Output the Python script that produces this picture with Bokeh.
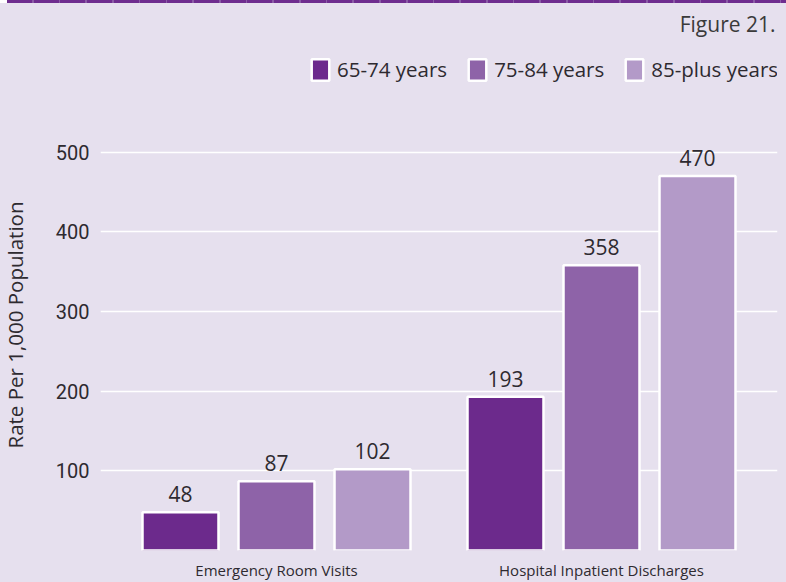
import math
from bokeh.plotting import figure
from bokeh.models import FactorRange, Range1d, FixedTicker, Label, Div, ColumnDataSource, Title
from bokeh.transform import dodge
from bokeh.layouts import column
from bokeh.embed import file_html
from bokeh.resources import INLINE

# ---- data ----
categories = ["Emergency Room Visits", "Hospital Inpatient Discharges"]
age_groups = ["65-74 years", "75-84 years", "85-plus years"]
v_65_74 = [48, 193]
v_75_84 = [87, 358]
v_85_plus = [102, 470]
y_ticks = [100, 200, 300, 400, 500]
y_title = "Rate Per 1,000 Population"
fig_caption = "Figure 21."

# ---- styles ----
BG = "#E6E0EE"
COLORS = ["#6C2A8C", "#8E63A8", "#B39AC8"]
TEXT = "#2E2A30"
FONT = "Open Sans"

p = figure(
    x_range=FactorRange(factors=categories, range_padding=0.04154, range_padding_units="percent"),
    y_range=Range1d(0, 686.7),
    width=786, height=579,
    output_backend="svg", toolbar_location=None,
    min_border_left=100, min_border_right=9, min_border_top=0, min_border_bottom=31,
    background_fill_color=BG, border_fill_color=BG, outline_line_color=None,
)
p.styles = {"background-color": BG}

series = [v_65_74, v_75_84, v_85_plus]
offsets = [-0.2954, 0.0, 0.2954]
bar_w = 0.2338
for name, vals, off, col in zip(age_groups, series, offsets, COLORS):
    src = ColumnDataSource(dict(cat=categories, val=vals, lbl=[str(v) for v in vals]))
    p.vbar(x=dodge("cat", off, range=p.x_range), top="val", bottom=0, width=bar_w, source=src,
           fill_color=col, line_color="white", line_width=2.5, legend_label=name)
    p.text(x=dodge("cat", off, range=p.x_range), y="val", text="lbl", source=src,
           text_align="center", text_baseline="alphabetic", y_offset=-18,
           text_font_size="21px", text_color=TEXT, text_font={"value": FONT})

# axes
for ax in (p.xaxis, p.yaxis):
    ax.axis_line_color = None
    ax.major_tick_line_color = None
    ax.minor_tick_line_color = None
    ax.major_tick_out = 0
    ax.major_tick_in = 0
    ax.minor_tick_out = 0
    ax.minor_tick_in = 0

p.xaxis.major_label_standoff = 9
p.xaxis.major_label_text_font = FONT
p.xaxis.major_label_text_font_size = "15px"
p.xaxis.major_label_text_color = TEXT
p.xgrid.grid_line_color = None

p.yaxis.ticker = FixedTicker(ticks=y_ticks)
p.yaxis.major_label_standoff = 11
p.yaxis.major_label_text_font = "Roboto"
p.yaxis.major_label_text_font_size = "20px"
p.yaxis.major_label_text_color = TEXT
p.ygrid.grid_line_color = "white"
p.ygrid.grid_line_width = 1.5

# legend
lg = p.legend[0]
lg.location = (209, 466.7)
lg.orientation = "horizontal"
lg.glyph_width = 22
lg.glyph_height = 27
lg.label_height = 27
lg.label_standoff = 6
lg.spacing = 19
lg.padding = 0
lg.margin = 0
lg.border_line_color = None
lg.background_fill_alpha = 0
lg.label_text_font = FONT
lg.label_text_font_size = "20.5px"
lg.label_text_color = TEXT

# caption (inside the frame area, which reaches the top of the figure)
p.add_layout(Label(x=675, y=527, x_units="screen", y_units="screen", text=fig_caption,
                   text_align="right", text_baseline="middle", text_font=FONT,
                   text_font_size="21px", text_color="#3A3A3A"))

# y-axis title as a title in the left panel
p.add_layout(Title(text=y_title, align="left", offset=102, text_font=FONT,
                   text_font_size="20.5px", text_font_style="normal", text_color=TEXT,
                   standoff=4, padding=dict(left=0, right=0, top=0, bottom=22)), "left")

band = Div(text="", width=779, height=3, margin=(0, 0, 0, 7),
           styles={"background": "repeating-linear-gradient(90deg, #6F2D8F 0px, #6F2D8F 25px, #8B5BA6 25px, #8B5BA6 26.7px)"})

layout = column(band, p, spacing=0)
open("out.html", "w").write(file_html(layout, INLINE))
